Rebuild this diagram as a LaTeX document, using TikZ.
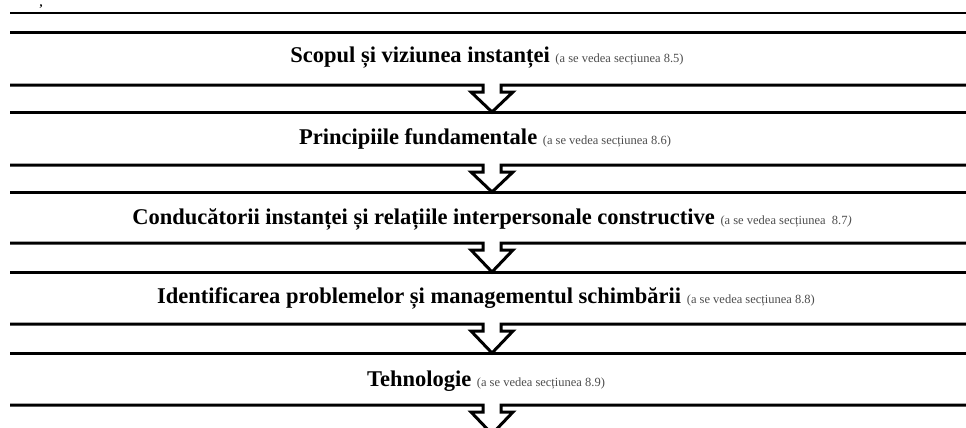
\documentclass[tikz,border=0pt]{standalone}
\usepackage{fontspec}
\setmainfont{Liberation Serif}
\newcommand\vezi[1]{{\fontsize{12.5}{14}\selectfont\mdseries\color{black!70}(a se vedea secțiunea #1)}}
\begin{document}
\begin{tikzpicture}[x=1pt, y=-1pt, line join=miter,
    rail/.style={line width=3pt},
    thinrail/.style={line width=2pt},
    titlu/.style={anchor=base, inner sep=0pt, font=\bfseries\fontsize{22.5}{26}\selectfont}]
        \useasboundingbox (0,0) rectangle (966,428);
        \clip (0,0) rectangle (966,428);
        \node (virgula) [anchor=base, inner sep=0pt, text height=2pt, text depth=3pt] at (41,7) {\bfseries\fontsize{12}{13}\selectfont ,};
        \draw [thinrail](10,13)--(970,13);
        \draw [rail](10,33)--(970,33);
        % benzile cu sageata
        \foreach \s/\j in {85/112, 165/192, 243/272, 324/353, 405/434}{
            \draw [rail](10,\s)--(483,\s)--(483,\s+7)--(471,\s+7)--(492,\j)
                --(513,\s+7)--(501,\s+7)--(501,\s)--(970,\s);
            \draw [rail](10,\j)--(970,\j);
        }
        \node (scop) [titlu] at (487,63) {Scopul și viziunea instanței \vezi{8.5}};
        \node (principii) [titlu] at (485,144) {Principiile fundamentale \vezi{8.6}};
        \node (conducatori) [titlu] at (492,224) {Conducătorii instanței și relațiile interpersonale constructive {\fontsize{12.5}{14}\selectfont\mdseries\color{black!70}(a se vedea secțiunea \ 8.7\textit{)}}};
        \node (probleme) [titlu] at (486,303) {Identificarea problemelor și managementul schimbării \vezi{8.8}};
        \node (tehnologie) [titlu] at (486,386) {Tehnologie \vezi{8.9}};
\end{tikzpicture}
\end{document}
